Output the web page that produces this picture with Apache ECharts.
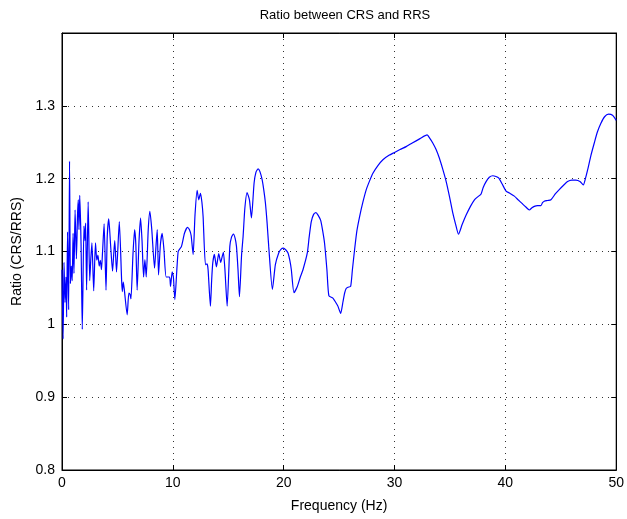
<!DOCTYPE html>
<html>
<head>
<meta charset="utf-8">
<script src="https://cdn.jsdelivr.net/npm/echarts@6/dist/echarts.min.js"></script>
<style>html,body{margin:0;padding:0;background:#fff}#c{width:627px;height:519px}</style>
</head>
<body>
<div id="c"></div>
<script>
const titleText = 'Ratio between CRS and RRS';
const xName = 'Frequency (Hz)';
const yName = 'Ratio (CRS/RRS)';
const xTicks = [0, 10, 20, 30, 40, 50];
const yTicks = [0.8, 0.9, 1.0, 1.1, 1.2, 1.3, 1.4];

// Frequency (Hz), 0-10 Hz noisy part
const freqLow = [0.00,0.10,0.18,0.27,0.36,0.42,0.50,0.60,0.68,0.76,0.84,0.92,1.00,1.08,1.18,1.30,1.40,1.47,1.53,1.60,1.72,1.83,1.98,2.07,2.13,2.22,2.36,2.50,2.60,2.70,2.86,3.02,3.14,3.24,3.36,3.46,3.56,3.66,3.80,3.97,4.08,4.22,4.38,4.56,4.66,4.76,4.92,5.17,5.38,5.44,5.53,5.62,5.88,6.03,6.14,6.22,6.40,6.55,6.66,6.78,6.95,7.09,7.22,7.36,7.48,7.60,7.78,7.93,8.10,8.35,8.47,8.59,8.71,8.88,9.04,9.20,9.40,9.70,9.79,9.94,10.05];
const ratioLow = [1.075,0.980,1.085,1.030,1.065,1.010,1.127,1.020,1.224,1.056,1.080,1.060,1.125,1.070,1.157,1.090,1.150,1.171,1.130,1.177,1.110,0.993,1.135,1.115,1.139,1.047,1.168,1.060,1.090,1.112,1.046,1.112,1.088,1.095,1.080,1.088,1.075,1.100,1.138,1.047,1.120,1.145,1.110,1.073,1.095,1.115,1.072,1.141,1.060,1.045,1.058,1.048,1.013,1.043,1.041,1.035,1.095,1.130,1.110,1.047,1.115,1.146,1.115,1.065,1.089,1.065,1.130,1.155,1.130,1.077,1.105,1.130,1.068,1.110,1.125,1.102,1.065,1.065,1.052,1.072,1.065];

// 10-50 Hz smoother part
const freqHigh = [10.18,10.48,10.78,11.05,11.32,11.50,11.65,11.83,12.00,12.19,12.34,12.49,12.62,12.73,12.94,13.09,13.18,13.39,13.50,13.60,13.75,13.93,14.14,14.32,14.45,14.56,14.70,14.90,15.14,15.30,15.47,15.62,15.74,15.88,16.01,16.20,16.34,16.50,16.70,16.91,17.09,17.33,17.50,17.69,17.85,18.05,18.20,18.35,18.50,18.65,18.98,19.25,19.55,19.75,19.97,20.20,20.39,20.55,20.69,20.93,21.23,21.50,21.74,22.13,22.30,22.49,22.70,22.91,23.10,23.33,23.50,23.69,23.90,24.08,24.44,24.70,24.89,25.14,25.35,25.50,25.65,25.80,26.04,26.20,26.40,26.60,26.85,27.15,27.45,27.75,28.05,28.50,28.95,29.50,30.00,30.50,31.05,31.60,32.30,32.94,33.20,33.45,33.75,34.05,34.35,34.66,34.95,35.26,35.50,35.77,36.10,36.46,36.85,37.21,37.50,37.81,38.00,38.26,38.55,38.86,39.15,39.39,39.70,40.06,40.40,40.81,41.15,41.50,41.85,42.16,42.40,42.61,42.90,43.21,43.35,43.51,43.80,44.11,44.50,44.86,45.25,45.61,46.00,46.37,46.73,47.03,47.22,47.42,47.72,48.02,48.30,48.62,48.95,49.31,49.67,50.00];
const ratioHigh = [1.034,1.100,1.107,1.125,1.133,1.130,1.122,1.096,1.150,1.184,1.171,1.180,1.168,1.148,1.082,1.083,1.075,1.025,1.060,1.084,1.096,1.079,1.097,1.085,1.093,1.099,1.075,1.025,1.107,1.120,1.124,1.118,1.107,1.075,1.038,1.095,1.121,1.160,1.181,1.171,1.146,1.194,1.209,1.2135,1.210,1.199,1.185,1.167,1.140,1.107,1.048,1.082,1.098,1.103,1.1045,1.102,1.098,1.088,1.075,1.0435,1.052,1.065,1.075,1.098,1.120,1.141,1.151,1.1535,1.150,1.143,1.130,1.111,1.075,1.039,1.036,1.030,1.025,1.015,1.031,1.043,1.0495,1.051,1.052,1.075,1.103,1.128,1.148,1.168,1.185,1.197,1.2075,1.218,1.226,1.232,1.236,1.240,1.244,1.249,1.255,1.260,1.255,1.249,1.240,1.228,1.213,1.196,1.176,1.1526,1.138,1.1237,1.137,1.150,1.162,1.171,1.175,1.179,1.188,1.196,1.202,1.204,1.203,1.201,1.193,1.183,1.180,1.176,1.171,1.166,1.161,1.157,1.160,1.162,1.163,1.163,1.167,1.169,1.170,1.171,1.179,1.185,1.191,1.196,1.198,1.198,1.196,1.1915,1.200,1.212,1.232,1.249,1.264,1.276,1.285,1.2886,1.287,1.280];

const freq = freqLow.concat(freqHigh);
const ratio = ratioLow.concat(ratioHigh);
const points = freq.map((f, i) => [f, ratio[i]]);

const font = 'Liberation Sans, Arial, Helvetica, sans-serif';
const gridLine = { show: true, lineStyle: { color: '#333', width: 1, type: [1, 5] } };

const chart = echarts.init(document.getElementById('c'), null, { renderer: 'canvas' });
chart.setOption({
  animation: false,
  backgroundColor: '#fff',
  title: {
    text: titleText, left: 340, top: 4, textAlign: 'center',
    textStyle: { fontFamily: font, fontSize: 13, fontWeight: 'normal', color: '#000' }
  },
  grid: { left: 62, right: 10, top: 33, bottom: 49, show: true, borderColor: '#000', borderWidth: 1, backgroundColor: '#fff' },
  xAxis: [{
    type: 'value', min: xTicks[0], max: xTicks[xTicks.length - 1], interval: 10,
    name: xName, nameLocation: 'middle', nameGap: 29,
    nameTextStyle: { fontFamily: font, fontSize: 14, color: '#000' },
    axisLine: { show: true, onZero: false, lineStyle: { color: '#000', width: 1 } },
    axisTick: { show: true, inside: true, length: 5, lineStyle: { color: '#000' } },
    axisLabel: { fontFamily: font, fontSize: 14, color: '#000', margin: 6 },
    splitLine: gridLine
  }, {
    type: 'value', position: 'top', min: 0, max: 50, interval: 10,
    axisLine: { show: true, onZero: false, lineStyle: { color: '#000' } },
    axisTick: { show: true, inside: true, length: 5, lineStyle: { color: '#000' } },
    axisLabel: { show: false }, splitLine: { show: false }
  }],
  yAxis: [{
    type: 'value', min: yTicks[0], max: yTicks[yTicks.length - 1], interval: 0.1,
    name: yName, nameLocation: 'middle', nameGap: 38,
    nameTextStyle: { fontFamily: font, fontSize: 14, color: '#000' },
    axisLine: { show: true, onZero: false, lineStyle: { color: '#000', width: 1 } },
    axisTick: { show: true, inside: true, length: 5, lineStyle: { color: '#000' } },
    axisLabel: {
      fontFamily: font, fontSize: 14, color: '#000', margin: 7,
      formatter: v => (Math.abs(v - 1.4) < 1e-9 ? '' : String(+v.toFixed(1)))
    },
    splitLine: gridLine
  }, {
    type: 'value', position: 'right', min: 0.8, max: 1.4, interval: 0.1,
    axisLine: { show: true, onZero: false, lineStyle: { color: '#000' } },
    axisTick: { show: true, inside: true, length: 5, lineStyle: { color: '#000' } },
    axisLabel: { show: false }, splitLine: { show: false }
  }],
  series: [{
    type: 'line', data: points, xAxisIndex: 0, yAxisIndex: 0,
    showSymbol: false, smooth: 0.2,
    lineStyle: { color: '#0000ff', width: 1.2 },
    clip: true
  }]
});
</script>
</body>
</html>
